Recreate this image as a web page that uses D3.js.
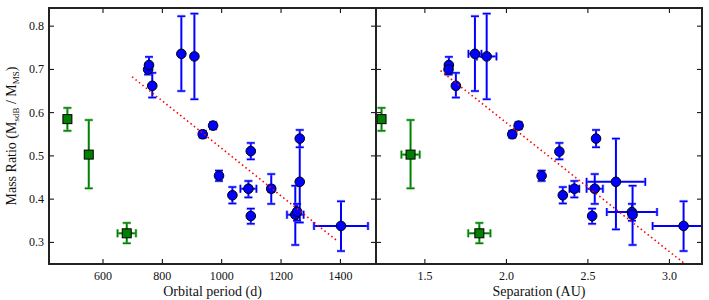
<!DOCTYPE html>
<html>
<head>
<meta charset="utf-8">
<script src="https://cdn.jsdelivr.net/npm/d3@7"></script>
<style>
  body { margin: 0; background: #fff; }
  svg text { font-family: 'Liberation Serif', 'DejaVu Serif', serif; fill: #111; }
</style>
</head>
<body>
<div id="chart"></div>
<script>
// ========== DATA ==========
// each point: [x, xerr, q, qLow, qHigh]
const periodBlue = [
  [752, 0, 0.700, 0.688, 0.712],
  [755, 0, 0.710, 0.690, 0.729],
  [766, 0, 0.662, 0.635, 0.692],
  [864, 0, 0.736, 0.650, 0.823],
  [908, 0, 0.730, 0.631, 0.829],
  [936, 0, 0.550, 0.542, 0.558],
  [971, 0, 0.570, 0.562, 0.578],
  [991, 0, 0.454, 0.442, 0.466],
  [1036, 0, 0.409, 0.390, 0.428],
  [1090, 27, 0.424, 0.404, 0.442],
  [1098, 0, 0.511, 0.492, 0.530],
  [1098, 0, 0.361, 0.343, 0.378],
  [1167, 10, 0.424, 0.389, 0.458],
  [1248, 28, 0.364, 0.294, 0.431],
  [1254, 0, 0.371, 0.350, 0.389],
  [1263, 0, 0.440, 0.346, 0.540],
  [1263, 0, 0.540, 0.520, 0.560],
  [1402, 91, 0.338, 0.280, 0.395]
];
const periodGreen = [
  [480, 0, 0.585, 0.558, 0.611],
  [552, 0, 0.503, 0.425, 0.583],
  [680, 31, 0.321, 0.298, 0.345]
];
const sepBlue = [
  [1.647, 0, 0.710, 0.690, 0.729],
  [1.645, 0, 0.700, 0.688, 0.712],
  [1.690, 0, 0.662, 0.635, 0.692],
  [1.807, 0.04, 0.736, 0.650, 0.823],
  [1.879, 0.06, 0.730, 0.631, 0.829],
  [2.036, 0, 0.550, 0.542, 0.558],
  [2.075, 0, 0.570, 0.562, 0.578],
  [2.216, 0, 0.454, 0.442, 0.466],
  [2.325, 0, 0.510, 0.492, 0.530],
  [2.346, 0, 0.409, 0.390, 0.428],
  [2.417, 0.03, 0.424, 0.404, 0.442],
  [2.526, 0, 0.361, 0.343, 0.378],
  [2.542, 0.05, 0.424, 0.389, 0.458],
  [2.550, 0, 0.540, 0.520, 0.560],
  [2.672, 0.18, 0.440, 0.330, 0.540],
  [2.770, 0.154, 0.370, 0.350, 0.389],
  [2.774, 0, 0.364, 0.294, 0.431],
  [3.087, 0.19, 0.338, 0.280, 0.395]
];
const sepGreen = [
  [1.234, 0, 0.585, 0.558, 0.611],
  [1.412, 0.056, 0.503, 0.425, 0.583],
  [1.834, 0.068, 0.321, 0.298, 0.345]
];
// fitted trend lines: [x, q] endpoints
const periodFit = [[698, 0.683], [1390, 0.303]];
const sepFit = [[1.596, 0.697], [3.091, 0.2515]];

const periodTicks = [600, 800, 1000, 1200, 1400];
const sepTicks = [1.5, 2.0, 2.5, 3.0];
const qTicks = [0.3, 0.4, 0.5, 0.6, 0.7, 0.8];

// ========== DRAW ==========
const W = 709, H = 300;
const yTop = 8, yBot = 264;
const svg = d3.select('#chart').append('svg').attr('width', W).attr('height', H);

const y = d3.scaleLinear().domain([0.25, 0.842]).range([yBot, yTop]);

function drawPanel(id, x0, x1, domain, ticks, fmt, blue, green, fit, label) {
  const x = d3.scaleLinear().domain(domain).range([x0, x1]);
  const g = svg.append('g');

  svg.append('clipPath').attr('id', 'clip-' + id)
    .append('rect').attr('x', x0).attr('y', yTop).attr('width', x1 - x0).attr('height', yBot - yTop);
  const plot = g.append('g').attr('clip-path', `url(#clip-${id})`);

  function errorbars(data, col, capCol) {
    const eb = plot.append('g');
    data.forEach(d => {
      const cx = x(d[0]), cy = y(d[2]);
      // vertical
      eb.append('line').attr('x1', cx).attr('x2', cx).attr('y1', y(d[3])).attr('y2', y(d[4]))
        .attr('stroke', col).attr('stroke-width', 2);
      [d[3], d[4]].forEach(v => {
        eb.append('line').attr('x1', cx - 4).attr('x2', cx + 4).attr('y1', y(v)).attr('y2', y(v))
          .attr('stroke', capCol).attr('stroke-width', 3).attr('opacity', 0.5);
        eb.append('line').attr('x1', cx - 4).attr('x2', cx + 4).attr('y1', y(v)).attr('y2', y(v))
          .attr('stroke', col).attr('stroke-width', 1.5);
      });
      if (d[1] > 0) {
        const xa = x(d[0] - d[1]), xb = x(d[0] + d[1]);
        eb.append('line').attr('x1', xa).attr('x2', xb).attr('y1', cy).attr('y2', cy)
          .attr('stroke', col).attr('stroke-width', 2);
        [xa, xb].forEach(xx => {
          eb.append('line').attr('x1', xx).attr('x2', xx).attr('y1', cy - 4).attr('y2', cy + 4)
            .attr('stroke', capCol).attr('stroke-width', 3).attr('opacity', 0.5);
          eb.append('line').attr('x1', xx).attr('x2', xx).attr('y1', cy - 4).attr('y2', cy + 4)
            .attr('stroke', col).attr('stroke-width', 1.5);
        });
      }
    });
  }

  errorbars(green, '#008000', '#66bb66');
  errorbars(blue, '#0000ff', '#7777ff');

  // green squares
  plot.selectAll('rect.sq').data(green).enter().append('rect')
    .attr('x', d => x(d[0]) - 4.5).attr('y', d => y(d[2]) - 4.5)
    .attr('width', 9).attr('height', 9)
    .attr('fill', '#008000').attr('stroke', '#000').attr('stroke-width', 1);

  // blue circles
  plot.selectAll('circle').data(blue).enter().append('circle')
    .attr('cx', d => x(d[0])).attr('cy', d => y(d[2])).attr('r', 4.8)
    .attr('fill', '#0000ff').attr('stroke', '#000').attr('stroke-width', 1);

  // fit line (dotted, on top)
  plot.append('line')
    .attr('x1', x(fit[0][0])).attr('y1', y(fit[0][1]))
    .attr('x2', x(fit[1][0])).attr('y2', y(fit[1][1]))
    .attr('stroke', '#ff0000').attr('stroke-width', 1.6)
    .attr('stroke-dasharray', '1.5,2.9');

  // ticks, inward on all sides
  const tk = g.append('g').attr('stroke', '#000').attr('stroke-width', 1);
  ticks.forEach(t => {
    tk.append('line').attr('x1', x(t)).attr('x2', x(t)).attr('y1', yBot).attr('y2', yBot - 5);
    tk.append('line').attr('x1', x(t)).attr('x2', x(t)).attr('y1', yTop).attr('y2', yTop + 5);
  });
  qTicks.forEach(t => {
    tk.append('line').attr('x1', x0).attr('x2', x0 + 5).attr('y1', y(t)).attr('y2', y(t));
    tk.append('line').attr('x1', x1).attr('x2', x1 - 5).attr('y1', y(t)).attr('y2', y(t));
  });

  g.selectAll('text.xt').data(ticks).enter().append('text')
    .attr('x', d => x(d)).attr('y', yBot + 16)
    .attr('text-anchor', 'middle').style('font-size', '12px')
    .text(fmt);

  g.append('text').attr('x', (x0 + x1) / 2).attr('y', 296)
    .attr('text-anchor', 'middle').style('font-size', '14px').text(label);

  // frame
  g.append('rect').attr('x', x0).attr('y', yTop).attr('width', x1 - x0).attr('height', yBot - yTop)
    .attr('fill', 'none').attr('stroke', '#222').attr('stroke-width', 2);
}

drawPanel('p', 49, 376, [418, 1520], periodTicks, d => d, periodBlue, periodGreen, periodFit, 'Orbital period (d)');
drawPanel('s', 376, 702, [1.2, 3.2], sepTicks, d => d.toFixed(1), sepBlue, sepGreen, sepFit, 'Separation (AU)');

// y tick labels
svg.selectAll('text.yt').data(qTicks).enter().append('text')
  .attr('x', 44).attr('y', d => y(d) + 4)
  .attr('text-anchor', 'end').style('font-size', '12px')
  .text(d => d.toFixed(1));

// y axis label with subscripts
const yl = svg.append('text')
  .attr('transform', `translate(16,${(yTop + yBot) / 2}) rotate(-90)`)
  .attr('text-anchor', 'middle').style('font-size', '14px');
yl.append('tspan').text('Mass Ratio (M');
yl.append('tspan').attr('dy', 3).style('font-size', '9px').text('sdB');
yl.append('tspan').attr('dy', -3).text(' / M');
yl.append('tspan').attr('dy', 3).style('font-size', '9px').text('MS');
yl.append('tspan').attr('dy', -3).text(')');
</script>
</body>
</html>
